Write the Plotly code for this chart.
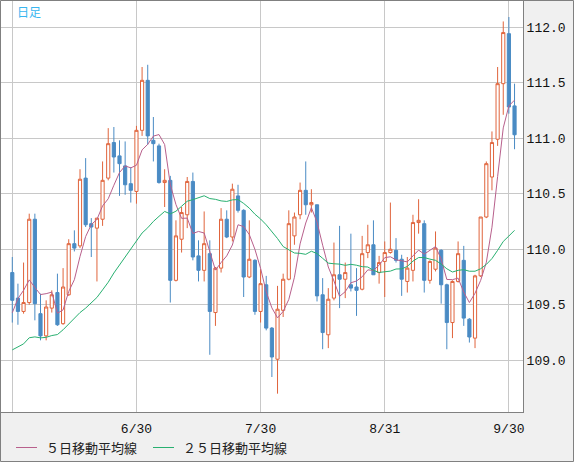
import pandas as pd
import plotly.graph_objects as go

# ---- data (USD/JPY daily) ----
dates = [d.strftime("%Y-%m-%d") for d in pd.bdate_range("2021-05-31", "2021-10-01")]

opens = [109.79, 109.56, 109.44, 109.52, 110.27, 109.42, 109.22, 109.47, 109.61, 109.33,
         109.59, 110.05, 110.03, 110.64, 110.23, 110.19, 110.27, 110.64, 110.96, 110.84,
         110.75, 110.59, 110.52, 111.07, 111.52, 110.98, 110.93, 110.60, 110.62, 109.72,
         110.09, 110.31, 110.61, 109.94, 109.81, 109.96, 109.43, 109.83, 110.27, 110.11,
         110.48, 110.35, 109.75, 109.90, 109.44, 109.68, 109.29, 109.01, 109.45, 109.73,
         110.12, 110.31, 110.53, 110.40, 110.40, 109.59, 109.23, 109.56, 109.77, 109.73,
         109.68, 109.66, 109.64, 109.97, 110.04, 109.79, 109.89, 109.97, 109.99, 109.91,
         109.71, 109.81, 110.24, 110.23, 109.72, 109.82, 109.99, 109.68, 109.34, 109.71,
         109.90, 109.37, 109.20, 109.76, 110.29, 110.65, 110.99, 111.49, 111.94, 111.29]
highs = [109.93, 109.69, 109.88, 110.32, 110.32, 109.60, 109.54, 109.63, 109.78, 109.83,
         110.09, 110.17, 110.72, 110.82, 110.28, 110.28, 110.79, 111.09, 111.10, 110.98,
         110.97, 110.74, 111.11, 111.64, 111.66, 111.19, 110.95, 110.72, 110.66, 110.26,
         110.38, 110.65, 110.69, 110.08, 110.34, 110.08, 109.84, 110.37, 110.35, 110.59,
         110.58, 110.36, 110.26, 109.91, 109.82, 109.76, 109.30, 109.67, 109.78, 110.35,
         110.33, 110.60, 110.79, 110.54, 110.40, 109.74, 109.65, 110.06, 110.21, 109.88,
         110.14, 109.83, 110.12, 110.22, 110.26, 109.94, 110.07, 110.42, 110.10, 109.95,
         109.93, 110.31, 110.45, 110.26, 109.90, 110.16, 110.00, 109.69, 109.72, 110.07,
         110.03, 109.38, 109.77, 110.29, 110.79, 111.06, 111.64, 112.05, 112.09, 111.49]
lows = [109.34, 109.32, 109.42, 109.50, 109.36, 109.18, 109.18, 109.43, 109.31, 109.32,
        109.58, 109.98, 110.01, 110.20, 109.93, 109.71, 110.21, 110.62, 110.69, 110.48,
        110.49, 110.42, 110.41, 111.02, 110.94, 110.79, 110.59, 110.38, 109.52, 109.71,
        109.97, 110.19, 109.90, 109.71, 109.71, 109.05, 109.31, 109.79, 110.10, 110.07,
        110.33, 109.57, 109.74, 109.41, 109.34, 109.27, 108.85, 108.70, 109.39, 109.72,
        110.04, 110.27, 110.31, 110.33, 109.53, 109.10, 109.11, 109.54, 109.47, 109.56,
        109.62, 109.40, 109.63, 109.92, 109.77, 109.69, 109.57, 109.96, 109.88, 109.58,
        109.61, 109.71, 110.14, 109.61, 109.69, 109.80, 109.51, 109.10, 109.20, 109.70,
        109.31, 109.16, 109.11, 109.75, 110.28, 110.53, 110.93, 111.21, 111.22, 110.90]
closes = [109.54, 109.44, 109.52, 110.27, 109.51, 109.22, 109.48, 109.59, 109.32, 109.66,
          110.05, 110.01, 110.63, 110.22, 110.20, 110.28, 110.62, 110.95, 110.83, 110.77,
          110.58, 110.53, 111.07, 111.52, 111.02, 110.95, 110.60, 110.62, 109.72, 110.12,
          110.33, 110.61, 109.93, 109.81, 110.05, 109.44, 109.83, 110.27, 110.11, 110.54,
          110.35, 109.75, 109.91, 109.44, 109.69, 109.29, 109.03, 109.46, 109.73, 110.23,
          110.29, 110.53, 110.40, 110.42, 109.58, 109.25, 109.55, 109.77, 109.73, 109.79,
          109.65, 109.63, 109.96, 110.04, 109.77, 109.88, 109.97, 110.00, 109.90, 109.73,
          109.83, 110.24, 110.26, 109.72, 109.89, 110.01, 109.68, 109.34, 109.71, 109.96,
          109.38, 109.21, 109.76, 110.29, 110.77, 110.96, 111.49, 111.95, 111.28, 111.03]
# closes of the 24 sessions before the first candle (needed for the moving averages)
prior_closes = [108.70, 108.90, 108.90, 109.30, 109.45, 109.35, 109.20, 109.10, 108.58, 108.80,
                108.62, 109.40, 109.20, 109.10, 109.00, 108.90, 109.23, 108.77, 108.94, 108.76,
                108.80, 109.15, 109.80, 109.85]

tick_dates = ["2021-05-31", "2021-06-30", "2021-07-30", "2021-08-31", "2021-09-30"]
tick_labels = ["", "6/30", "7/30", "8/31", "9/30"]
y_ticks = [109.0, 109.5, 110.0, 110.5, 111.0, 111.5, 112.0]

series_names = ["５日移動平均線", "２５日移動平均線"]

# ---- moving averages ----
all_c = pd.Series(prior_closes + closes)
n_prior = len(prior_closes)
ma5 = all_c.rolling(5).mean().iloc[n_prior:].round(3).tolist()
ma25 = all_c.rolling(25).mean().iloc[n_prior:].round(3).tolist()

UP = "#e0643c"
DOWN = "#4a8bc4"
MA5_C = "#b8608c"
MA25_C = "#28b070"
GRID = "#c8c8c8"
FRAME = "#808080"

fig = go.Figure()
fig.add_trace(go.Candlestick(
    x=dates, open=opens, high=highs, low=lows, close=closes,
    increasing=dict(line=dict(color=UP, width=1), fillcolor="white"),
    decreasing=dict(line=dict(color=DOWN, width=1), fillcolor=DOWN),
    whiskerwidth=0, showlegend=False, hoverinfo="skip",
))
fig.add_trace(go.Scatter(x=dates, y=ma5, mode="lines", name=series_names[0],
                         line=dict(color=MA5_C, width=1), showlegend=False, hoverinfo="skip"))
fig.add_trace(go.Scatter(x=dates, y=ma25, mode="lines", name=series_names[1],
                         line=dict(color=MA25_C, width=1), showlegend=False, hoverinfo="skip"))

L, R, T, B = 1, 51, 1, 50
W, H = 574, 462
PW, PH = W - L - R, H - T - B

def px_x(p):
    return (p - L) / PW

def px_y(p):
    return 1 - (p - T) / PH

shapes = [
    dict(type="rect", xref="paper", yref="paper",
         x0=px_x(0.5), x1=px_x(W - 0.5), y0=px_y(H - 0.5), y1=px_y(0.5),
         line=dict(color=FRAME, width=1), fillcolor="rgba(0,0,0,0)", layer="above"),
    dict(type="line", xref="paper", yref="paper", x0=px_x(16), x1=px_x(37),
         y0=px_y(447.5), y1=px_y(447.5), line=dict(color=MA5_C, width=1)),
    dict(type="line", xref="paper", yref="paper", x0=px_x(153), x1=px_x(174),
         y0=px_y(447.5), y1=px_y(447.5), line=dict(color=MA25_C, width=1)),
]
annotations = [
    dict(text="日足", xref="paper", yref="paper", x=px_x(15), y=px_y(11.5),
         xanchor="left", yanchor="middle", showarrow=False,
         font=dict(family="Noto Sans CJK JP", size=12, color="#38b6f0")),
    dict(text=series_names[0], xref="paper", yref="paper", x=px_x(44), y=px_y(447.5),
         xanchor="left", yanchor="middle", showarrow=False,
         font=dict(family="Noto Sans CJK JP", size=13, color="#222222")),
    dict(text=series_names[1], xref="paper", yref="paper", x=px_x(181), y=px_y(447.5),
         xanchor="left", yanchor="middle", showarrow=False,
         font=dict(family="Noto Sans CJK JP", size=13, color="#222222")),
]

fig.update_layout(
    width=W, height=H,
    margin=dict(l=L, r=R, t=T, b=B, pad=0),
    paper_bgcolor="#f0f0f0", plot_bgcolor="white",
    showlegend=False, boxgap=0.2,
    shapes=shapes, annotations=annotations,
    xaxis=dict(type="category", range=[-2.0, 90.5], rangeslider=dict(visible=False),
               tickmode="array", tickvals=tick_dates, ticktext=tick_labels,
               showgrid=True, gridcolor=GRID, gridwidth=1,
               showline=True, linecolor=FRAME, linewidth=1,
               ticks="", ticklabelstandoff=4,
               tickfont=dict(family="Liberation Mono", size=13, color="#111111"),
               fixedrange=True),
    yaxis=dict(side="right", range=[108.535, 112.234],
               tickmode="array", tickvals=y_ticks, tickformat=".1f",
               showgrid=True, gridcolor=GRID, gridwidth=1, zeroline=False,
               showline=True, linecolor=FRAME, linewidth=1,
               ticks="", ticklabelstandoff=0,
               tickfont=dict(family="Liberation Mono", size=13, color="#111111"),
               fixedrange=True),
)

fig.write_html("out.html", config={"displayModeBar": False},
               post_script="document.body.style.margin='0';document.body.style.overflow='hidden';")
